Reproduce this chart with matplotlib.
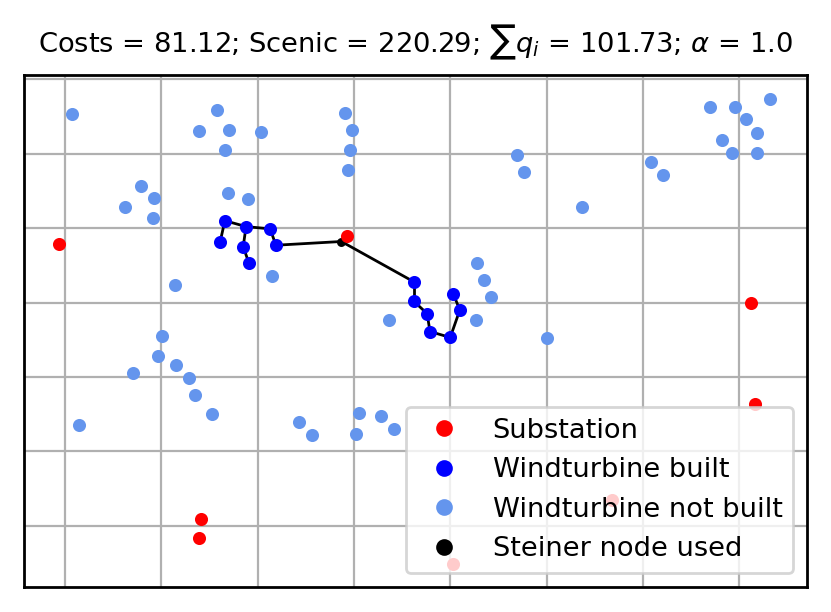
import matplotlib
matplotlib.use("Agg")
import matplotlib.pyplot as plt
from matplotlib.lines import Line2D

# Substations
sub_x = [-0.06, 2.93, 7.12, 7.17, 5.68, 4.03, 1.41, 1.39]
sub_y = [3.79, 3.89, 2.99, 1.64, 0.35, -0.51, 0.09, -0.17]

# Wind turbines built
built_x = [1.61, 1.66, 1.88, 1.85, 1.91, 2.13, 2.19, 3.62, 3.62, 3.76, 3.79, 4.00, 4.10, 4.03]
built_y = [3.81, 4.10, 4.02, 3.75, 3.53, 3.99, 3.77, 3.28, 3.02, 2.85, 2.61, 2.53, 2.90, 3.12]

# Wind turbines not built
nb_x = [0.07, 1.58, 1.39, 1.70, 2.04, 1.66, 2.91, 2.98, 2.96, 2.94,
        0.79, 0.92, 0.62, 0.91, 1.69, 1.90, 2.15, 1.14, 4.28, 4.35,
        4.42, 4.27, 3.36, 5.00, 6.70, 6.96, 7.32, 7.07, 7.19, 6.82,
        6.93, 7.19, 4.69, 4.77, 6.09, 6.21, 5.37, 1.01, 0.97, 1.15,
        0.71, 1.29, 1.35, 1.53, 0.15, 2.43, 2.56, 3.05, 3.02, 3.28, 3.42]
nb_y = [5.53, 5.59, 5.31, 5.32, 5.29, 5.05, 5.55, 5.32, 5.05, 4.78,
        4.57, 4.40, 4.29, 4.13, 4.47, 4.39, 3.36, 3.24, 3.53, 3.30,
        3.08, 2.76, 2.76, 2.52, 5.63, 5.63, 5.74, 5.46, 5.28, 5.18,
        5.01, 5.01, 4.98, 4.76, 4.89, 4.71, 4.28, 2.55, 2.28, 2.16,
        2.05, 1.98, 1.76, 1.50, 1.35, 1.39, 1.22, 1.51, 1.23, 1.47, 1.30]

# Steiner nodes used
st_x = [2.87]
st_y = [3.82]

# Cable edges: (from, to), 'b<i>' = built turbine i, 's<i>' = steiner node i
edges = [("b0", "b1"), ("b1", "b2"), ("b2", "b3"), ("b3", "b4"), ("b2", "b5"),
         ("b5", "b6"), ("b6", "s0"), ("s0", "b7"), ("b7", "b8"), ("b8", "b9"),
         ("b9", "b10"), ("b10", "b11"), ("b11", "b12"), ("b12", "b13")]

title = r"Costs = 81.12; Scenic = 220.29; $\sum q_i$ = 101.73; $\alpha$ = 1.0"
legend_labels = ["Substation", "Windturbine built", "Windturbine not built", "Steiner node used"]
grid_x = [0, 1, 2, 3, 4, 5, 6, 7]
grid_y = [0, 1, 2, 3, 4, 5, 6]


def node(key):
    idx = int(key[1:])
    if key[0] == "b":
        return built_x[idx], built_y[idx]
    return st_x[idx], st_y[idx]


fig = plt.figure(figsize=(8.31 / 2, 6.12 / 2), dpi=200)
ax = fig.add_axes([24 / 831, 25 / 612, 783 / 831, 512 / 612])

for a, b in edges:
    (x0, y0), (x1, y1) = node(a), node(b)
    ax.plot([x0, x1], [y0, y1], color="black", lw=1.0, zorder=2)

ms = 3.7
ax.plot(nb_x, nb_y, "o", color="cornflowerblue", ms=ms, zorder=3)
ax.plot(built_x, built_y, "o", color="blue", ms=ms, zorder=3)
ax.plot(st_x, st_y, "o", color="black", ms=ms * 0.6, zorder=3)
ax.plot(sub_x, sub_y, "o", color="red", ms=ms, zorder=4)

ax.set_xlim(-0.426, 7.705)
ax.set_ylim(-0.824, 6.058)
ax.set_xticks(grid_x)
ax.set_yticks(grid_y)
ax.tick_params(length=0, labelbottom=False, labelleft=False)
ax.grid(True)
for sp in ax.spines.values():
    sp.set_linewidth(1.0)
ax.set_title(title, fontsize=9.85, pad=8)

colors = ["red", "blue", "cornflowerblue", "black"]
handles = [Line2D([], [], marker="o", ls="none", color=c, ms=5) for c in colors]
ax.legend(handles, legend_labels, loc="lower right", fontsize=9.8)

fig.savefig("out.png", dpi=200)
